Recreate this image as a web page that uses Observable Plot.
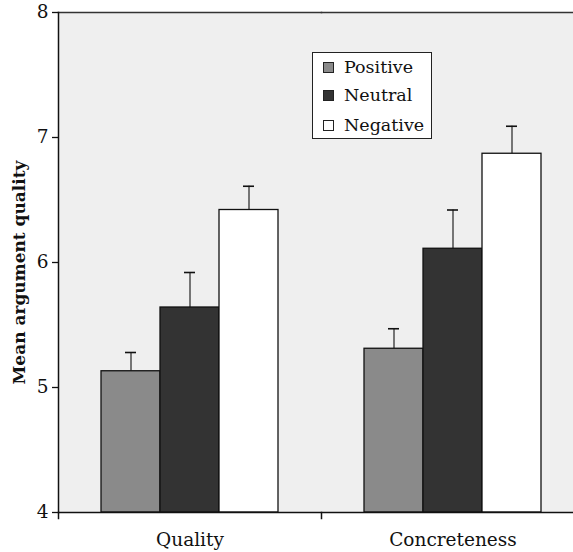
<!DOCTYPE html>
<html>
<head>
<meta charset="utf-8">
<script src="https://cdn.jsdelivr.net/npm/d3@7"></script>
<script src="https://cdn.jsdelivr.net/npm/@observablehq/plot@0.6"></script>
<style>
  html, body { margin: 0; padding: 0; background: #fff; overflow: hidden; }
  #wrap { position: relative; width: 573px; height: 552px; overflow: hidden; }
  #wrap svg { max-width: none !important; height: 552px !important; }
  #legend { position: absolute; left: 312px; top: 52px; width: 118px; height: 85px;
    background: #fff; border: 1.5px solid #222; font-family: "DejaVu Serif", serif; font-size: 17.5px; color: #111; }
  .row { position: absolute; left: 0; height: 24px; line-height: 24px; display: flex; align-items: center; }
  .sw { width: 9px; height: 9px; border: 1px solid #222; margin-left: 10px; margin-right: 10px; }
</style>
</head>
<body>
<div id="wrap"></div>
<script>
const categories = ["Quality", "Concreteness"];
const tones = ["Positive", "Neutral", "Negative"];
const qualityMeans = [5.13, 5.64, 6.42];
const qualityErrors = [0.15, 0.28, 0.19];
const concretenessMeans = [5.31, 6.11, 6.87];
const concretenessErrors = [0.16, 0.31, 0.22];
const yTicks = [4, 5, 6, 7, 8];
const yLabel = "Mean argument quality";
const toneColors = ["#8a8a8a", "#333333", "#ffffff"];

const rows = [];
[[qualityMeans, qualityErrors], [concretenessMeans, concretenessErrors]].forEach(([m, e], ci) => {
  tones.forEach((t, ti) => rows.push({cat: categories[ci], tone: t, mean: m[ti], se: e[ti]}));
});

const font = "DejaVu Serif, serif";
const chart = Plot.plot({
  width: 590, height: 552,
  marginLeft: 58, marginRight: 6, marginTop: 12, marginBottom: 40,
  style: {fontFamily: font, fontSize: "18px", color: "#111", background: "transparent", overflow: "visible", maxWidth: "none"},
  fx: {domain: categories, padding: 0, label: null, axis: null},
  x: {domain: tones, paddingInner: 0, paddingOuter: 0.725, axis: null},
  y: {domain: [4, 8], axis: null},
  color: {domain: tones, range: toneColors},
  marks: [
    Plot.frame({fill: "#efefef", stroke: null, shapeRendering: "crispEdges"}),
    Plot.frame({anchor: "top", stroke: "#333", strokeWidth: 1.5}),
    Plot.frame({anchor: "left", stroke: "#111", strokeWidth: 1.5, facetAnchor: "left"}),
    Plot.frame({anchor: "left", stroke: "#111", strokeWidth: 1.5, insetTop: 500, insetBottom: -6}),
    Plot.axisY({ticks: yTicks, tickSize: 6, tickPadding: 4, label: null, tickFormat: d => String(d),
      fontSize: 18.5, fill: "#111", stroke: "#111", strokeWidth: 1.3}),
    Plot.axisFx({anchor: "bottom", tickSize: 0, tickPadding: 20, label: null, fontSize: 18.5, fill: "#111"}),
    Plot.ruleX(rows, {x: "tone", fx: "cat", y1: "mean", y2: d => d.mean + d.se, stroke: "#333", strokeWidth: 1.3}),
    Plot.tickY(rows, {x: "tone", fx: "cat", y: d => d.mean + d.se, stroke: "#111", strokeWidth: 1.6, insetLeft: 24, insetRight: 24}),
    Plot.barY(rows, {x: "tone", fx: "cat", y1: 4, y2: "mean", fill: "tone", stroke: "#111", strokeWidth: 1.3}),
    Plot.ruleY([4], {stroke: "#111", strokeWidth: 1.5}),
    Plot.text([yLabel], {text: d => d, frameAnchor: "left", textAnchor: "middle", rotate: -90, dx: -39, dy: 10,
      fontWeight: "bold", fontSize: 17, fill: "#111", facetAnchor: "left"})
  ]
});
const wrap = document.getElementById("wrap");
wrap.appendChild(chart);

const legend = document.createElement("div");
legend.id = "legend";
const centers = [14, 42, 72];
tones.forEach((t, i) => {
  const r = document.createElement("div");
  r.className = "row";
  r.style.top = (centers[i] - 12) + "px";
  const sw = document.createElement("span");
  sw.className = "sw";
  sw.style.background = toneColors[i];
  const tx = document.createElement("span");
  tx.textContent = t;
  r.appendChild(sw); r.appendChild(tx);
  legend.appendChild(r);
});
wrap.appendChild(legend);
</script>
</body>
</html>
